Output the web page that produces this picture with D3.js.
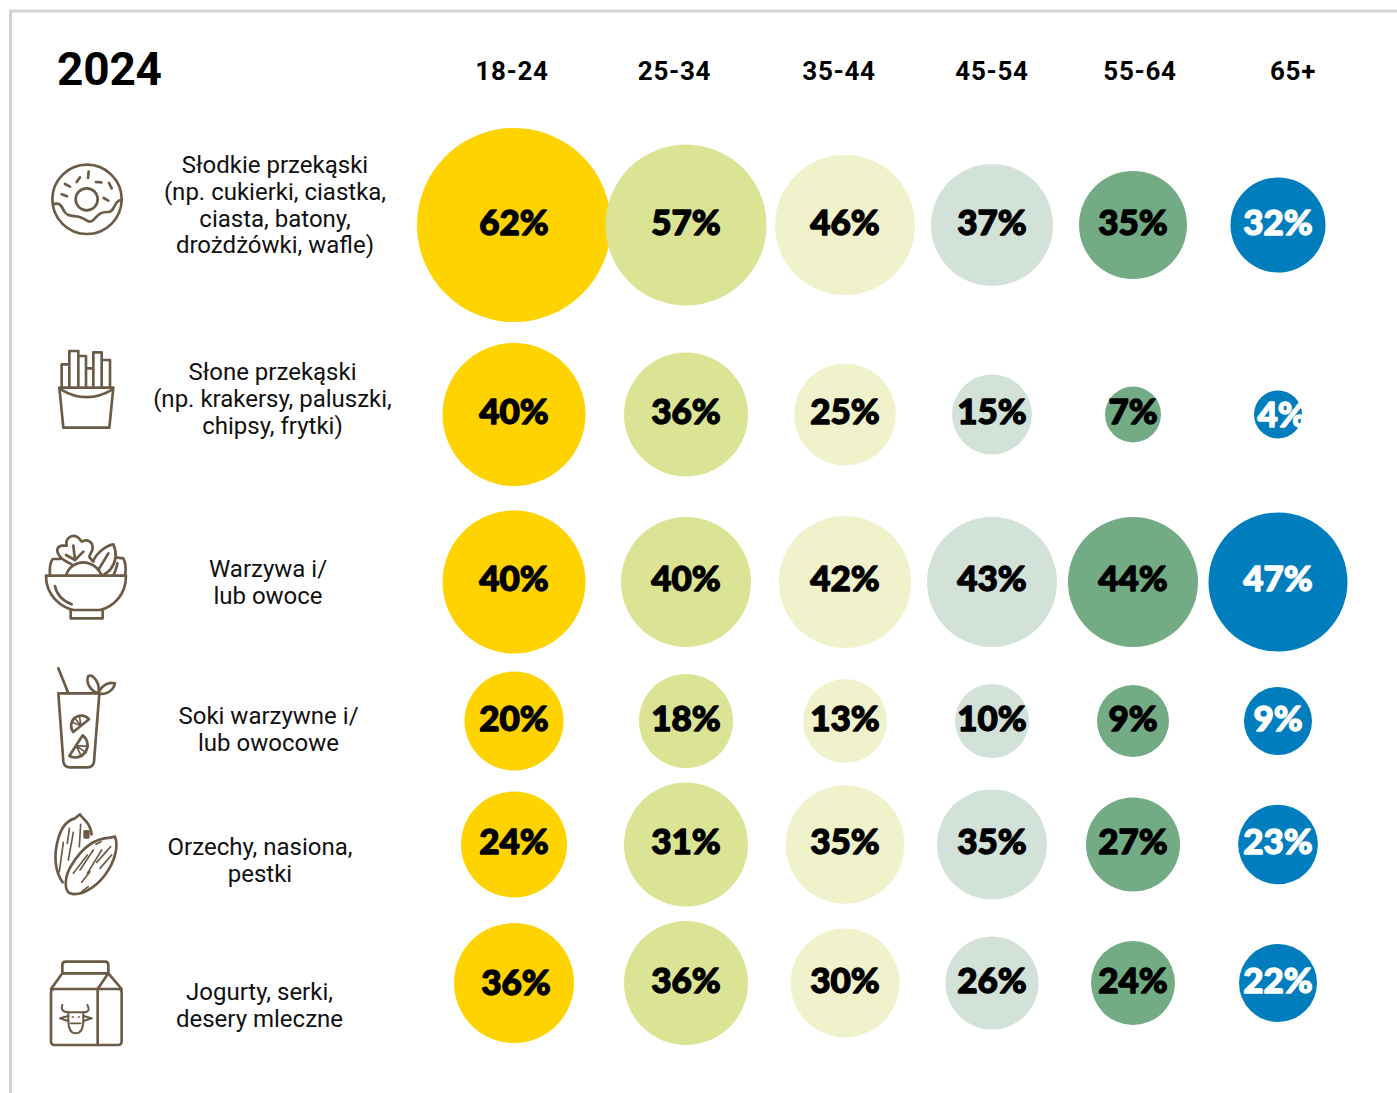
<!DOCTYPE html>
<html lang="pl">
<head>
<meta charset="utf-8">
<script src="https://cdn.jsdelivr.net/npm/d3@7"></script>
<style>
  html, body { margin: 0; padding: 0; background: #fff; overflow: hidden; }
  svg { display: block; }
</style>
</head>
<body>
<svg id="chart" width="1397" height="1093"></svg>
<script>
// Share of respondents per snack category and age group, 2024
const year = "2024";
const ageGroups = ["18-24", "25-34", "35-44", "45-54", "55-64", "65+"];
const categories = [
  ["Słodkie przekąski", "(np. cukierki, ciastka,", "ciasta, batony,", "drożdżówki, wafle)"],
  ["Słone przekąski", "(np. krakersy, paluszki,", "chipsy, frytki)"],
  ["Warzywa i/", "lub owoce"],
  ["Soki warzywne i/", "lub owocowe"],
  ["Orzechy, nasiona,", "pestki"],
  ["Jogurty, serki,", "desery mleczne"]
];
const sweetSnacks = [62, 57, 46, 37, 35, 32];
const saltySnacks = [40, 36, 25, 15, 7, 4];
const vegetablesFruit = [40, 40, 42, 43, 44, 47];
const juices = [20, 18, 13, 10, 9, 9];
const nuts = [24, 31, 35, 35, 27, 23];
const dairy = [36, 36, 30, 26, 24, 22];
const seriesByRow = [sweetSnacks, saltySnacks, vegetablesFruit, juices, nuts, dairy];
const ageColors = ["#FFD300", "#DAE494", "#F0F2CC", "#D2E2D9", "#72AB84", "#007DBD"];

const svg = d3.select("#chart");

// Layout of the table
const columnX = d3.scaleOrdinal().domain(ageGroups).range([514, 686, 845, 992, 1133, 1278]);
const headerX = d3.scaleOrdinal().domain(ageGroups).range([512, 674.5, 839, 992, 1140, 1293]);
const rowIndex = d3.range(categories.length);
const rowY = d3.scaleOrdinal().domain(rowIndex).range([225, 414.5, 582, 721, 844.5, 983]);
const labelY = d3.scaleOrdinal().domain(rowIndex).range([235, 424, 591, 731, 854, 993]);
const categoryX = d3.scaleOrdinal().domain(rowIndex).range([275, 272.5, 268, 268.5, 260, 259.5]);
const categoryBaseline = d3.scaleOrdinal().domain(rowIndex).range([173, 380, 577, 724, 855, 1000]);

// Every age column sizes its bubbles on its own piecewise radius scale
const radiusScales = [
  d3.scaleLinear().domain([20, 24, 36, 40, 62]).range([49.5, 53, 60, 71.5, 97]),
  d3.scaleLinear().domain([18, 31, 36, 40, 57]).range([47, 62, 62, 65, 80.5]),
  d3.scaleLinear().domain([13, 30, 46]).range([42, 54.5, 70]),
  d3.scaleLinear().domain([10, 26, 35, 37, 43]).range([37, 46.5, 55, 61, 65]),
  d3.scaleLinear().domain([7, 9, 24, 27, 35, 44]).range([28, 36, 42, 47, 54, 65]),
  d3.scaleLinear().domain([4, 9, 22, 32, 47]).range([24, 34, 39, 47.5, 69.5])
];

// Labels that sit slightly off their bubble's centre
const labelNudges = new Map([["1-5", [4, 3]], ["5-0", [2, 2]]]);
const nudge = d => labelNudges.get(`${d.row}-${d.col}`) || [0, 0];

const cells = rowIndex.flatMap(r => ageGroups.map((age, c) => ({
  row: r, col: c, age, value: seriesByRow[r][c]
})));

// Page frame
svg.append("path")
  .attr("d", "M10.5,1093 V11 H1397")
  .attr("fill", "none")
  .attr("stroke", "#d3d3d3")
  .attr("stroke-width", 3);

svg.append("text")
  .attr("x", 57)
  .attr("y", 85)
  .attr("font-family", "Roboto")
  .attr("font-weight", 700)
  .attr("font-size", 46)
  .attr("letter-spacing", -0.2)
  .attr("fill", "#000")
  .text(year);

svg.selectAll("text.age")
  .data(ageGroups)
  .join("text")
  .attr("class", "age")
  .attr("x", d => headerX(d))
  .attr("y", 80)
  .attr("text-anchor", "middle")
  .attr("font-family", "Roboto")
  .attr("font-weight", 700)
  .attr("font-size", 26)
  .attr("letter-spacing", 0.7)
  .attr("fill", "#000")
  .text(d => d);

// Category captions
const captions = svg.selectAll("text.category")
  .data(categories)
  .join("text")
  .attr("class", "category")
  .attr("text-anchor", "middle")
  .attr("font-family", "Roboto")
  .attr("font-size", 24)
  .attr("fill", "#111");

captions.selectAll("tspan")
  .data((lines, r) => lines.map((line, i) => ({ line, i, r })))
  .join("tspan")
  .attr("x", d => categoryX(d.r))
  .attr("y", d => categoryBaseline(d.r) + d.i * 26.8)
  .text(d => d.line);

// Bubbles
svg.selectAll("circle.bubble")
  .data(cells)
  .join("circle")
  .attr("class", "bubble")
  .attr("cx", d => columnX(d.age))
  .attr("cy", d => rowY(d.row))
  .attr("r", d => radiusScales[d.col](d.value))
  .attr("fill", d => ageColors[d.col]);

svg.selectAll("text.value")
  .data(cells)
  .join("text")
  .attr("class", "value")
  .attr("x", d => columnX(d.age) + nudge(d)[0])
  .attr("y", d => labelY(d.row) + nudge(d)[1])
  .attr("text-anchor", "middle")
  .attr("font-family", "Lato")
  .attr("font-weight", 900)
  .attr("font-size", 35)
  .attr("stroke", d => d.col === 5 ? "#fff" : "#000")
  .attr("stroke-width", 1.3)
  .attr("stroke-linejoin", "round")
  .attr("fill", d => d.col === 5 ? "#fff" : "#000")
  .text(d => d.value + "%");

// Category icons, outlined on a 3x grid and scaled down into place
const icons = [
  { at: [30, 150], shapes: [
    '<circle cx="171" cy="148" r="104"/>',
    '<circle cx="170" cy="148" r="33"/>',
    '<path d="M70,163 C90,155 95,170 102,183 C112,203 135,195 155,203 C170,208 175,222 190,210 C205,195 210,185 235,186 C255,186 250,155 272,150"/>',
    '<path d="M176,65 L174,84 M150,82 L140,96 M105,102 L120,110 M198,96 L214,97 M237,99 L245,115 M95,133 L111,139 M221,144 L235,152"/>'
  ]},
  { at: [30, 340], shapes: [
    '<path d="M88,143 H250 L238,263 H100 Z"/>',
    '<path d="M92,148 Q170,195 248,148"/>',
    '<path d="M95,143 V73 H118 V143 M118,73 V33 H145 V143 M145,48 H168 V143 M168,85 H190 V143 M190,85 V37 H215 V143 M215,60 H240 V143"/>'
  ]},
  { at: [30, 525], shapes: [
    '<path d="M48,152 H288 C288,210 250,245 210,255 H130 C90,245 48,210 48,152 Z"/>',
    '<path d="M122,258 V280 H218 V258"/>',
    '<path d="M75,183 C80,210 100,228 125,238"/>',
    '<path d="M108,152 C115,125 140,112 160,112 C180,112 205,125 215,152"/>',
    '<path d="M125,118 C110,110 95,105 88,92 C78,78 80,65 95,62 L110,62 C105,40 125,28 140,35 C150,40 150,45 155,50 C170,40 188,50 188,68 C188,80 180,85 178,95 C180,100 185,105 190,110"/>',
    '<path d="M130,62 L135,105 M108,90 L135,105 M160,80 L135,105"/>',
    '<path d="M190,108 C195,90 225,62 250,58 C262,85 260,110 240,135 C235,140 225,148 215,152 M205,135 L235,85"/>',
    '<path d="M60,152 C58,130 62,110 68,102 L92,102 M262,98 L280,100 C288,115 288,135 285,152 M250,152 C255,140 262,125 262,115"/>'
  ]},
  { at: [30, 660], shapes: [
    '<path d="M85,25 L115,100"/>',
    '<path d="M85,100 H208 L192,305 C190,318 182,322 172,322 H120 C110,322 102,318 100,305 Z"/>',
    '<path d="M205,100 C185,95 165,70 175,48 C190,42 212,70 205,100 M205,100 C215,75 235,65 255,70 C250,95 225,105 205,100"/>',
    '<path d="M130,216 A30,30 0 0 1 177,178 Z"/>',
    '<path d="M153,197 L125,186 M153,197 L134,174 M153,197 L148,167" stroke-width="5"/>',
    '<path d="M158,226 A37,37 0 0 1 118,288 Z"/>',
    '<path d="M138,257 L175,259 M138,257 L168,278 M138,257 L155,290" stroke-width="5"/>'
  ]},
  { at: [30, 805], shapes: [
    '<path d="M98,232 C75,200 70,150 85,100 C95,65 115,45 135,40 L150,28 C160,45 180,50 185,88"/>',
    '<path d="M100,112 L88,200 M130,82 L115,165 M152,58 L148,125 M118,70 L112,115" stroke-width="5"/>',
    '<path d="M164,79 H175 V97 H164 Z" fill="#6b5a45"/>',
    '<path d="M240,98 L255,95 C265,120 258,165 225,210 C195,250 150,275 120,265 C100,255 105,210 125,180 C155,130 195,100 240,98 Z"/>',
    '<path d="M198,118 L213,110 M130,205 L172,150 M150,195 L190,135 M155,232 L180,200 M172,205 L215,135 M200,172 L242,125 M155,260 L175,245 M210,190 L245,150" stroke-width="5"/>'
  ]},
  { at: [30, 955], shapes: [
    '<rect x="63" y="102" width="212" height="168" rx="10"/>',
    '<path d="M203,102 V270 M63,102 L97,55 H235 L275,102 M203,102 L235,55"/>',
    '<path d="M97,55 V30 Q97,20 107,20 H225 Q235,20 235,30 V55"/>',
    '<path d="M115,172 H160 V195 C160,215 155,235 137,235 C118,235 115,215 115,195 Z" stroke-width="6"/>',
    '<path d="M115,172 C100,172 92,165 97,150 M160,172 C175,172 180,165 172,150 M115,183 L90,190 L115,198 M160,183 L185,190 L160,198" stroke-width="6"/>',
    '<path d="M122,205 H152 M127,186 H130 M145,186 H148" stroke-width="5"/>'
  ]}
];

svg.selectAll("g.icon")
  .data(icons)
  .join("g")
  .attr("class", "icon")
  .attr("transform", d => `translate(${d.at[0]},${d.at[1]}) scale(${1 / 3})`)
  .attr("fill", "none")
  .attr("stroke", "#6b5a45")
  .attr("stroke-width", 8)
  .attr("stroke-linecap", "round")
  .attr("stroke-linejoin", "round")
  .html(d => d.shapes.join(""));
</script>
</body>
</html>
